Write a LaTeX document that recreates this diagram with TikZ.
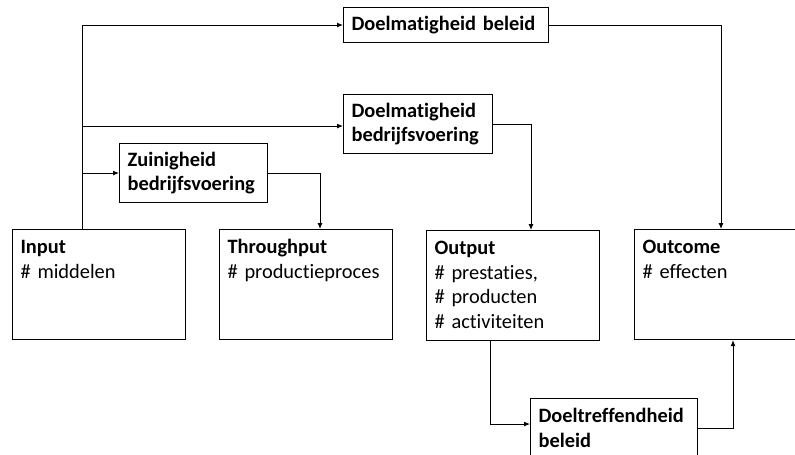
\documentclass[tikz,border=0pt]{standalone}
\usepackage{fontspec}
\setmainfont{Carlito}[Ligatures={NoCommon}]
\usetikzlibrary{arrows.meta}
\hyphenpenalty=10000
\exhyphenpenalty=10000
\begin{document}
\begin{tikzpicture}[x=1pt,y=-1pt,
	box/.style={draw,line width=1.1pt,anchor=north west,align=left,inner xsep=8pt,
		font=\fontsize{20.4}{24.5}\selectfont},
	bigbox/.style={box,text width=157pt,inner ysep=11pt,text height=13pt,text depth=75pt},
	arrow/.style={line width=0.9pt,-{Latex[length=6pt,width=5pt]}}]
	\clip (0,0) rectangle (795,455);
	% the four main stages
	\node[bigbox] (input) at (12,229) {\textbf{Input}\\\# middelen};
	\node[bigbox] (throughput) at (219,229) {\textbf{Throughput}\\\# productieproces};
	\node[bigbox] (output) at (426,230) {\textbf{Output}\\\# prestaties,\\\# producten\\\# activiteiten};
	\node[bigbox] (outcome) at (634,229) {\textbf{Outcome}\\\# effecten};
	% the measures
	\node[box,text width=189pt,minimum height=35pt] (dmbeleid) at (343,7) {\textbf{Doelmatigheid beleid}};
	\node[box,text width=133pt,minimum height=59pt] (dmbedrijf) at (343,94) {\textbf{Doelmatigheid}\\\textbf{bedrijfsvoering}};
	\node[box,text width=132pt,minimum height=59pt] (zuinig) at (119,143) {\textbf{Zuinigheid}\\\textbf{bedrijfsvoering}};
	\node[box,text width=151pt,minimum height=59pt] (doeltref) at (530,398) {\textbf{Doeltreffendheid}\\\textbf{beleid}};
	% connectors
	\draw[arrow] ([xshift=70pt]input.north west) |- (dmbeleid.west);
	\draw[arrow] ([xshift=70pt]input.north west) |- ([yshift=-2pt]dmbedrijf.west);
	\draw[arrow] ([xshift=70pt]input.north west) |- (zuinig.west);
	\draw[arrow] (zuinig.east) -| ([xshift=101pt]throughput.north west);
	\draw[arrow] (dmbedrijf.east) -| ([xshift=105pt]output.north west);
	\draw[arrow] (dmbeleid.east) -| ([xshift=87pt]outcome.north west);
	\draw[arrow] ([xshift=64pt]output.south west) |- ([yshift=4pt]doeltref.west);
	\draw[arrow] (doeltref.east) -| ([xshift=99pt]outcome.south west);
\end{tikzpicture}
\end{document}
